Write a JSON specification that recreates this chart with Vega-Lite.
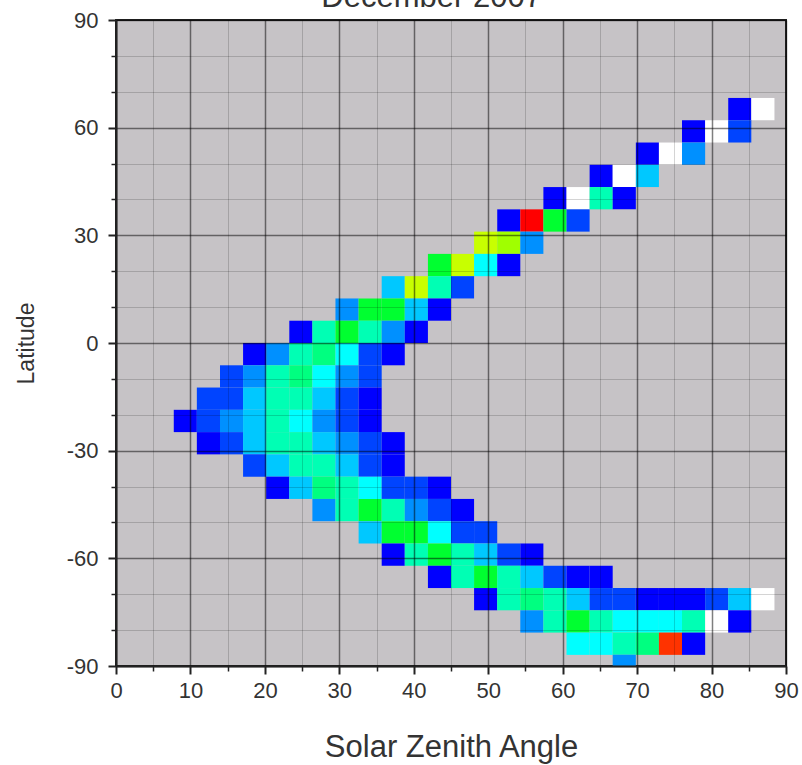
{
  "$schema": "https://vega.github.io/schema/vega-lite/v6.json",
  "width": 670,
  "height": 646,
  "autosize": {"type": "none"},
  "padding": {"left": 116, "top": 20, "right": 16, "bottom": 99},
  "background": "white",
  "config": {
    "view": {"stroke": "#222222", "strokeWidth": 2, "fill": "#c6c3c6"},
    "axis": {"labelFont": "Liberation Sans", "titleFont": "Liberation Sans"}
  },
  "data": {"values": [
    {"s0": 82.24, "s1": 85.34, "l0": 62.07, "l1": 68.28, "v": 1},
    {"s0": 85.34, "s1": 88.45, "l0": 62.07, "l1": 68.28, "v": 13},
    {"s0": 76.03, "s1": 79.14, "l0": 55.86, "l1": 62.07, "v": 1},
    {"s0": 79.14, "s1": 82.24, "l0": 55.86, "l1": 62.07, "v": 13},
    {"s0": 82.24, "s1": 85.34, "l0": 55.86, "l1": 62.07, "v": 2},
    {"s0": 69.83, "s1": 72.93, "l0": 49.66, "l1": 55.86, "v": 1},
    {"s0": 72.93, "s1": 76.03, "l0": 49.66, "l1": 55.86, "v": 13},
    {"s0": 76.03, "s1": 79.14, "l0": 49.66, "l1": 55.86, "v": 3},
    {"s0": 63.62, "s1": 66.72, "l0": 43.45, "l1": 49.66, "v": 1},
    {"s0": 66.72, "s1": 69.83, "l0": 43.45, "l1": 49.66, "v": 13},
    {"s0": 69.83, "s1": 72.93, "l0": 43.45, "l1": 49.66, "v": 4},
    {"s0": 57.41, "s1": 60.52, "l0": 37.24, "l1": 43.45, "v": 1},
    {"s0": 60.52, "s1": 63.62, "l0": 37.24, "l1": 43.45, "v": 13},
    {"s0": 63.62, "s1": 66.72, "l0": 37.24, "l1": 43.45, "v": 6},
    {"s0": 66.72, "s1": 69.83, "l0": 37.24, "l1": 43.45, "v": 1},
    {"s0": 51.21, "s1": 54.31, "l0": 31.03, "l1": 37.24, "v": 1},
    {"s0": 54.31, "s1": 57.41, "l0": 31.03, "l1": 37.24, "v": 11},
    {"s0": 57.41, "s1": 60.52, "l0": 31.03, "l1": 37.24, "v": 8},
    {"s0": 60.52, "s1": 63.62, "l0": 31.03, "l1": 37.24, "v": 2},
    {"s0": 48.1, "s1": 51.21, "l0": 24.83, "l1": 31.03, "v": 10},
    {"s0": 51.21, "s1": 54.31, "l0": 24.83, "l1": 31.03, "v": 9},
    {"s0": 54.31, "s1": 57.41, "l0": 24.83, "l1": 31.03, "v": 3},
    {"s0": 41.9, "s1": 45, "l0": 18.62, "l1": 24.83, "v": 8},
    {"s0": 45, "s1": 48.1, "l0": 18.62, "l1": 24.83, "v": 10},
    {"s0": 48.1, "s1": 51.21, "l0": 18.62, "l1": 24.83, "v": 5},
    {"s0": 51.21, "s1": 54.31, "l0": 18.62, "l1": 24.83, "v": 1},
    {"s0": 35.69, "s1": 38.79, "l0": 12.41, "l1": 18.62, "v": 4},
    {"s0": 38.79, "s1": 41.9, "l0": 12.41, "l1": 18.62, "v": 10},
    {"s0": 41.9, "s1": 45, "l0": 12.41, "l1": 18.62, "v": 6},
    {"s0": 45, "s1": 48.1, "l0": 12.41, "l1": 18.62, "v": 2},
    {"s0": 29.48, "s1": 32.59, "l0": 6.21, "l1": 12.41, "v": 3},
    {"s0": 32.59, "s1": 35.69, "l0": 6.21, "l1": 12.41, "v": 8},
    {"s0": 35.69, "s1": 38.79, "l0": 6.21, "l1": 12.41, "v": 8},
    {"s0": 38.79, "s1": 41.9, "l0": 6.21, "l1": 12.41, "v": 4},
    {"s0": 41.9, "s1": 45, "l0": 6.21, "l1": 12.41, "v": 1},
    {"s0": 23.28, "s1": 26.38, "l0": 0, "l1": 6.21, "v": 1},
    {"s0": 26.38, "s1": 29.48, "l0": 0, "l1": 6.21, "v": 6},
    {"s0": 29.48, "s1": 32.59, "l0": 0, "l1": 6.21, "v": 8},
    {"s0": 32.59, "s1": 35.69, "l0": 0, "l1": 6.21, "v": 6},
    {"s0": 35.69, "s1": 38.79, "l0": 0, "l1": 6.21, "v": 3},
    {"s0": 38.79, "s1": 41.9, "l0": 0, "l1": 6.21, "v": 1},
    {"s0": 17.07, "s1": 20.17, "l0": -6.21, "l1": 0, "v": 1},
    {"s0": 20.17, "s1": 23.28, "l0": -6.21, "l1": 0, "v": 3},
    {"s0": 23.28, "s1": 26.38, "l0": -6.21, "l1": 0, "v": 6},
    {"s0": 26.38, "s1": 29.48, "l0": -6.21, "l1": 0, "v": 7},
    {"s0": 29.48, "s1": 32.59, "l0": -6.21, "l1": 0, "v": 5},
    {"s0": 32.59, "s1": 35.69, "l0": -6.21, "l1": 0, "v": 2},
    {"s0": 35.69, "s1": 38.79, "l0": -6.21, "l1": 0, "v": 1},
    {"s0": 13.97, "s1": 17.07, "l0": -12.41, "l1": -6.21, "v": 2},
    {"s0": 17.07, "s1": 20.17, "l0": -12.41, "l1": -6.21, "v": 3},
    {"s0": 20.17, "s1": 23.28, "l0": -12.41, "l1": -6.21, "v": 6},
    {"s0": 23.28, "s1": 26.38, "l0": -12.41, "l1": -6.21, "v": 7},
    {"s0": 26.38, "s1": 29.48, "l0": -12.41, "l1": -6.21, "v": 5},
    {"s0": 29.48, "s1": 32.59, "l0": -12.41, "l1": -6.21, "v": 3},
    {"s0": 32.59, "s1": 35.69, "l0": -12.41, "l1": -6.21, "v": 2},
    {"s0": 10.86, "s1": 13.97, "l0": -18.62, "l1": -12.41, "v": 2},
    {"s0": 13.97, "s1": 17.07, "l0": -18.62, "l1": -12.41, "v": 2},
    {"s0": 17.07, "s1": 20.17, "l0": -18.62, "l1": -12.41, "v": 4},
    {"s0": 20.17, "s1": 23.28, "l0": -18.62, "l1": -12.41, "v": 6},
    {"s0": 23.28, "s1": 26.38, "l0": -18.62, "l1": -12.41, "v": 6},
    {"s0": 26.38, "s1": 29.48, "l0": -18.62, "l1": -12.41, "v": 4},
    {"s0": 29.48, "s1": 32.59, "l0": -18.62, "l1": -12.41, "v": 2},
    {"s0": 32.59, "s1": 35.69, "l0": -18.62, "l1": -12.41, "v": 1},
    {"s0": 7.76, "s1": 10.86, "l0": -24.83, "l1": -18.62, "v": 1},
    {"s0": 10.86, "s1": 13.97, "l0": -24.83, "l1": -18.62, "v": 2},
    {"s0": 13.97, "s1": 17.07, "l0": -24.83, "l1": -18.62, "v": 3},
    {"s0": 17.07, "s1": 20.17, "l0": -24.83, "l1": -18.62, "v": 4},
    {"s0": 20.17, "s1": 23.28, "l0": -24.83, "l1": -18.62, "v": 6},
    {"s0": 23.28, "s1": 26.38, "l0": -24.83, "l1": -18.62, "v": 5},
    {"s0": 26.38, "s1": 29.48, "l0": -24.83, "l1": -18.62, "v": 3},
    {"s0": 29.48, "s1": 32.59, "l0": -24.83, "l1": -18.62, "v": 2},
    {"s0": 32.59, "s1": 35.69, "l0": -24.83, "l1": -18.62, "v": 1},
    {"s0": 10.86, "s1": 13.97, "l0": -31.03, "l1": -24.83, "v": 1},
    {"s0": 13.97, "s1": 17.07, "l0": -31.03, "l1": -24.83, "v": 2},
    {"s0": 17.07, "s1": 20.17, "l0": -31.03, "l1": -24.83, "v": 4},
    {"s0": 20.17, "s1": 23.28, "l0": -31.03, "l1": -24.83, "v": 6},
    {"s0": 23.28, "s1": 26.38, "l0": -31.03, "l1": -24.83, "v": 6},
    {"s0": 26.38, "s1": 29.48, "l0": -31.03, "l1": -24.83, "v": 4},
    {"s0": 29.48, "s1": 32.59, "l0": -31.03, "l1": -24.83, "v": 3},
    {"s0": 32.59, "s1": 35.69, "l0": -31.03, "l1": -24.83, "v": 2},
    {"s0": 35.69, "s1": 38.79, "l0": -31.03, "l1": -24.83, "v": 1},
    {"s0": 17.07, "s1": 20.17, "l0": -37.24, "l1": -31.03, "v": 2},
    {"s0": 20.17, "s1": 23.28, "l0": -37.24, "l1": -31.03, "v": 4},
    {"s0": 23.28, "s1": 26.38, "l0": -37.24, "l1": -31.03, "v": 6},
    {"s0": 26.38, "s1": 29.48, "l0": -37.24, "l1": -31.03, "v": 6},
    {"s0": 29.48, "s1": 32.59, "l0": -37.24, "l1": -31.03, "v": 4},
    {"s0": 32.59, "s1": 35.69, "l0": -37.24, "l1": -31.03, "v": 2},
    {"s0": 35.69, "s1": 38.79, "l0": -37.24, "l1": -31.03, "v": 1},
    {"s0": 20.17, "s1": 23.28, "l0": -43.45, "l1": -37.24, "v": 1},
    {"s0": 23.28, "s1": 26.38, "l0": -43.45, "l1": -37.24, "v": 4},
    {"s0": 26.38, "s1": 29.48, "l0": -43.45, "l1": -37.24, "v": 7},
    {"s0": 29.48, "s1": 32.59, "l0": -43.45, "l1": -37.24, "v": 6},
    {"s0": 32.59, "s1": 35.69, "l0": -43.45, "l1": -37.24, "v": 5},
    {"s0": 35.69, "s1": 38.79, "l0": -43.45, "l1": -37.24, "v": 2},
    {"s0": 38.79, "s1": 41.9, "l0": -43.45, "l1": -37.24, "v": 2},
    {"s0": 41.9, "s1": 45, "l0": -43.45, "l1": -37.24, "v": 1},
    {"s0": 26.38, "s1": 29.48, "l0": -49.66, "l1": -43.45, "v": 3},
    {"s0": 29.48, "s1": 32.59, "l0": -49.66, "l1": -43.45, "v": 6},
    {"s0": 32.59, "s1": 35.69, "l0": -49.66, "l1": -43.45, "v": 8},
    {"s0": 35.69, "s1": 38.79, "l0": -49.66, "l1": -43.45, "v": 6},
    {"s0": 38.79, "s1": 41.9, "l0": -49.66, "l1": -43.45, "v": 3},
    {"s0": 41.9, "s1": 45, "l0": -49.66, "l1": -43.45, "v": 2},
    {"s0": 45, "s1": 48.1, "l0": -49.66, "l1": -43.45, "v": 1},
    {"s0": 32.59, "s1": 35.69, "l0": -55.86, "l1": -49.66, "v": 4},
    {"s0": 35.69, "s1": 38.79, "l0": -55.86, "l1": -49.66, "v": 8},
    {"s0": 38.79, "s1": 41.9, "l0": -55.86, "l1": -49.66, "v": 8},
    {"s0": 41.9, "s1": 45, "l0": -55.86, "l1": -49.66, "v": 5},
    {"s0": 45, "s1": 48.1, "l0": -55.86, "l1": -49.66, "v": 2},
    {"s0": 48.1, "s1": 51.21, "l0": -55.86, "l1": -49.66, "v": 2},
    {"s0": 35.69, "s1": 38.79, "l0": -62.07, "l1": -55.86, "v": 1},
    {"s0": 38.79, "s1": 41.9, "l0": -62.07, "l1": -55.86, "v": 6},
    {"s0": 41.9, "s1": 45, "l0": -62.07, "l1": -55.86, "v": 8},
    {"s0": 45, "s1": 48.1, "l0": -62.07, "l1": -55.86, "v": 6},
    {"s0": 48.1, "s1": 51.21, "l0": -62.07, "l1": -55.86, "v": 4},
    {"s0": 51.21, "s1": 54.31, "l0": -62.07, "l1": -55.86, "v": 2},
    {"s0": 54.31, "s1": 57.41, "l0": -62.07, "l1": -55.86, "v": 1},
    {"s0": 41.9, "s1": 45, "l0": -68.28, "l1": -62.07, "v": 1},
    {"s0": 45, "s1": 48.1, "l0": -68.28, "l1": -62.07, "v": 6},
    {"s0": 48.1, "s1": 51.21, "l0": -68.28, "l1": -62.07, "v": 8},
    {"s0": 51.21, "s1": 54.31, "l0": -68.28, "l1": -62.07, "v": 6},
    {"s0": 54.31, "s1": 57.41, "l0": -68.28, "l1": -62.07, "v": 4},
    {"s0": 57.41, "s1": 60.52, "l0": -68.28, "l1": -62.07, "v": 2},
    {"s0": 60.52, "s1": 63.62, "l0": -68.28, "l1": -62.07, "v": 1},
    {"s0": 63.62, "s1": 66.72, "l0": -68.28, "l1": -62.07, "v": 1},
    {"s0": 48.1, "s1": 51.21, "l0": -74.48, "l1": -68.28, "v": 1},
    {"s0": 51.21, "s1": 54.31, "l0": -74.48, "l1": -68.28, "v": 6},
    {"s0": 54.31, "s1": 57.41, "l0": -74.48, "l1": -68.28, "v": 7},
    {"s0": 57.41, "s1": 60.52, "l0": -74.48, "l1": -68.28, "v": 6},
    {"s0": 60.52, "s1": 63.62, "l0": -74.48, "l1": -68.28, "v": 4},
    {"s0": 63.62, "s1": 66.72, "l0": -74.48, "l1": -68.28, "v": 2},
    {"s0": 66.72, "s1": 69.83, "l0": -74.48, "l1": -68.28, "v": 2},
    {"s0": 69.83, "s1": 72.93, "l0": -74.48, "l1": -68.28, "v": 1},
    {"s0": 72.93, "s1": 76.03, "l0": -74.48, "l1": -68.28, "v": 1},
    {"s0": 76.03, "s1": 79.14, "l0": -74.48, "l1": -68.28, "v": 1},
    {"s0": 79.14, "s1": 82.24, "l0": -74.48, "l1": -68.28, "v": 2},
    {"s0": 82.24, "s1": 85.34, "l0": -74.48, "l1": -68.28, "v": 4},
    {"s0": 85.34, "s1": 88.45, "l0": -74.48, "l1": -68.28, "v": 13},
    {"s0": 54.31, "s1": 57.41, "l0": -80.69, "l1": -74.48, "v": 3},
    {"s0": 57.41, "s1": 60.52, "l0": -80.69, "l1": -74.48, "v": 6},
    {"s0": 60.52, "s1": 63.62, "l0": -80.69, "l1": -74.48, "v": 8},
    {"s0": 63.62, "s1": 66.72, "l0": -80.69, "l1": -74.48, "v": 6},
    {"s0": 66.72, "s1": 69.83, "l0": -80.69, "l1": -74.48, "v": 5},
    {"s0": 69.83, "s1": 72.93, "l0": -80.69, "l1": -74.48, "v": 5},
    {"s0": 72.93, "s1": 76.03, "l0": -80.69, "l1": -74.48, "v": 5},
    {"s0": 76.03, "s1": 79.14, "l0": -80.69, "l1": -74.48, "v": 6},
    {"s0": 79.14, "s1": 82.24, "l0": -80.69, "l1": -74.48, "v": 13},
    {"s0": 82.24, "s1": 85.34, "l0": -80.69, "l1": -74.48, "v": 1},
    {"s0": 60.52, "s1": 63.62, "l0": -86.9, "l1": -80.69, "v": 5},
    {"s0": 63.62, "s1": 66.72, "l0": -86.9, "l1": -80.69, "v": 5},
    {"s0": 66.72, "s1": 69.83, "l0": -86.9, "l1": -80.69, "v": 6},
    {"s0": 69.83, "s1": 72.93, "l0": -86.9, "l1": -80.69, "v": 7},
    {"s0": 72.93, "s1": 76.03, "l0": -86.9, "l1": -80.69, "v": 12},
    {"s0": 76.03, "s1": 79.14, "l0": -86.9, "l1": -80.69, "v": 1},
    {"s0": 66.72, "s1": 69.83, "l0": -93.1, "l1": -86.9, "v": 3}
  ]},
  "layer": [
    {
      "mark": {"type": "rect", "clip": true},
      "encoding": {
        "x": {"field": "s0", "type": "quantitative",
          "scale": {"domain": [0, 90], "nice": false, "zero": false},
          "axis": {"orient": "bottom", "values": [5, 15, 25, 35, 45, 55, 65, 75, 85], "labels": false, "domain": false, "ticks": true, "tickSize": 5, "tickColor": "#222222", "tickWidth": 1.5, "grid": true, "gridColor": "#000000", "gridOpacity": 0.17, "gridWidth": 1, "title": null, "zindex": 1}},
        "x2": {"field": "s1"},
        "y": {"field": "l0", "type": "quantitative",
          "scale": {"domain": [-90, 90], "nice": false, "zero": false},
          "axis": {"orient": "left", "values": [-80, -70, -50, -40, -20, -10, 10, 20, 40, 50, 70, 80], "labels": false, "domain": false, "ticks": true, "tickSize": 5, "tickColor": "#222222", "tickWidth": 1.5, "grid": true, "gridColor": "#000000", "gridOpacity": 0.17, "gridWidth": 1, "title": null, "zindex": 1}},
        "y2": {"field": "l1"},
        "color": {"field": "v", "type": "ordinal",
          "scale": {"domain": [1, 2, 3, 4, 5, 6, 7, 8, 9, 10, 11, 12, 13],
            "range": ["#0000ff", "#0044ff", "#0090ff", "#00c8ff", "#00ffff", "#00ffb4", "#00ff80", "#00ff30", "#a0ff00", "#c8ff00", "#ff0000", "#ff3300", "#ffffff"]},
          "legend": null}
      }
    },
    {
      "mark": {"type": "rect", "opacity": 0, "clip": true},
      "encoding": {
        "x": {"field": "s0", "type": "quantitative",
          "scale": {"domain": [0, 90], "nice": false, "zero": false},
          "axis": {"orient": "bottom", "values": [0, 10, 20, 30, 40, 50, 60, 70, 80, 90], "labelExpr": "'' + datum.value", "tickSize": 8, "tickWidth": 2, "tickColor": "#222222", "domain": true, "domainColor": "#222222", "domainWidth": 2, "grid": true, "gridColor": "#000000", "gridOpacity": 0.5, "gridWidth": 1.5, "labelFontSize": 22, "labelColor": "#333333", "labelPadding": 6, "labelFlush": false, "labelOverlap": false, "title": "Solar Zenith Angle", "titleFontSize": 31, "titleFontWeight": "normal", "titleColor": "#333333", "titlePadding": 31, "zindex": 1}},
        "x2": {"field": "s1"},
        "y": {"field": "l0", "type": "quantitative",
          "scale": {"domain": [-90, 90], "nice": false, "zero": false},
          "axis": {"orient": "left", "values": [-90, -60, -30, 0, 30, 60, 90], "labelExpr": "'' + datum.value", "tickSize": 8, "tickWidth": 2, "tickColor": "#222222", "domain": true, "domainColor": "#222222", "domainWidth": 2, "grid": true, "gridColor": "#000000", "gridOpacity": 0.5, "gridWidth": 1.5, "labelFontSize": 22, "labelColor": "#333333", "labelPadding": 10, "labelFlush": false, "labelOverlap": false, "title": "Latitude", "titleFontSize": 23, "titleFontWeight": "normal", "titleColor": "#333333", "titlePadding": 28, "zindex": 1}},
        "y2": {"field": "l1"}
      }
    },
    {
      "data": {"values": [{"label": "December 2007"}]},
      "mark": {"type": "text", "font": "Liberation Sans", "fontSize": 31, "color": "#333333", "align": "center", "baseline": "alphabetic", "dy": -13},
      "encoding": {
        "text": {"field": "label", "type": "nominal"},
        "x": {"datum": 42.4, "type": "quantitative", "axis": null},
        "y": {"datum": 90, "type": "quantitative", "axis": null}
      }
    }
  ],
  "resolve": {"axis": {"x": "independent", "y": "independent"}}
}
